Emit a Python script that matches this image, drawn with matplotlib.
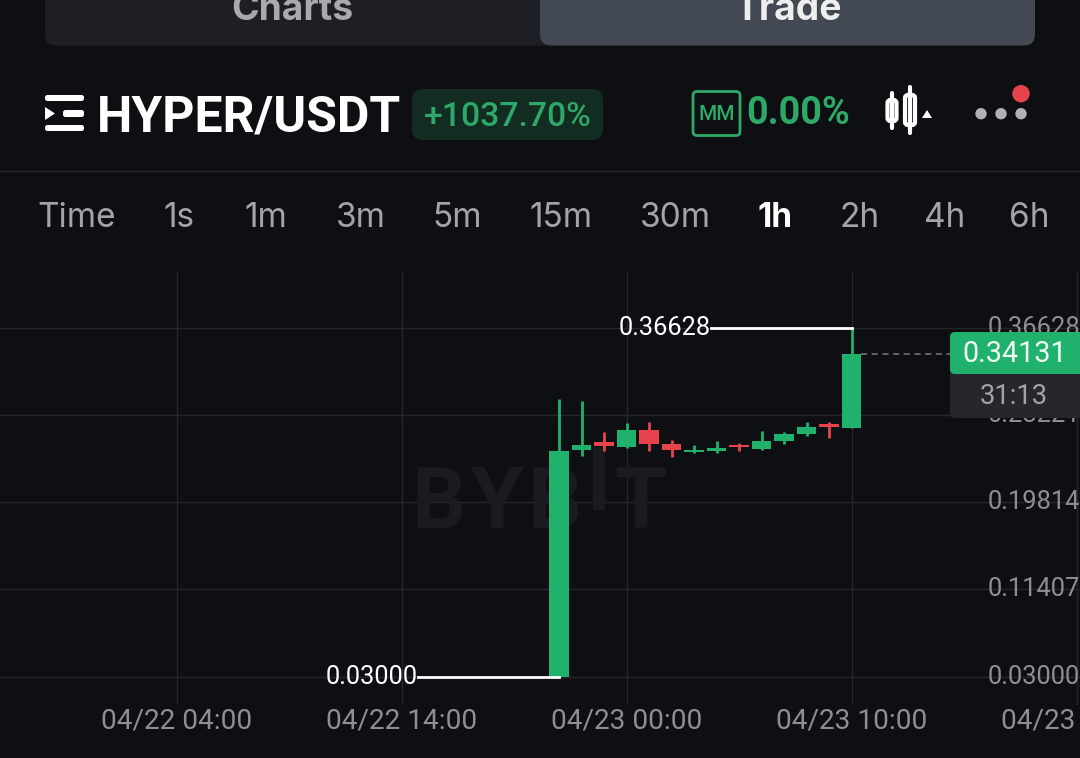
import matplotlib
matplotlib.use('Agg')
import matplotlib.pyplot as plt
from matplotlib.patches import FancyBboxPatch, Rectangle, Circle, Polygon

# Candles, hours relative to 04/23 00:00
hours = [-3, -2, -1, 0, 1, 2, 3, 4, 5, 6, 7, 8, 9, 10]
opens = [0.0300, 0.2481, 0.2558, 0.2516, 0.2680, 0.2545, 0.2461, 0.2478, 0.2535, 0.2494, 0.2571, 0.2641, 0.2738, 0.2699]
highs = [0.2979, 0.2959, 0.2658, 0.2745, 0.2757, 0.2577, 0.2535, 0.2574, 0.2552, 0.2667, 0.2658, 0.2754, 0.2754, 0.36628]
lows = [0.0300, 0.2430, 0.2471, 0.2507, 0.2471, 0.2417, 0.2456, 0.2458, 0.2471, 0.2484, 0.2545, 0.2615, 0.2596, 0.2699]
closes = [0.2478, 0.2529, 0.2519, 0.2673, 0.2545, 0.2487, 0.2487, 0.2507, 0.2509, 0.2571, 0.2641, 0.2702, 0.2706, 0.34131]

price_ticks = [0.03000, 0.11407, 0.19814, 0.28221, 0.36628]
price_labels = ['0.03000', '0.11407', '0.19814', '0.28221', '0.36628']
time_ticks = [-20, -10, 0, 10, 20]
time_labels = ['04/22 04:00', '04/22 14:00', '04/23 00:00', '04/23 10:00', '04/23 20:00']
intervals = ['Time', '1s', '1m', '3m', '5m', '15m', '30m', '1h', '2h', '4h', '6h']
interval_x = [77, 179, 266, 361, 457, 560.5, 675, 775.5, 860, 945, 1029]

BG = '#0e0f13'
GREEN = '#20b26c'
RED = '#e8434d'
GRID = '#24262b'
GREY = '#a3a4a9'
MARK = '#1a1b1f'
FONT = 'Inter'
W, H = 1080, 758
X0, Y0 = 626.7, 676.7   # pixel of 04/23 00:00 and of price 0.03
PX_HOUR, PX_PRICE = 22.5, 1037.8


def hx(px):
    return (px - X0) / PX_HOUR


def py(px):
    return 0.03 + (Y0 - px) / PX_PRICE


fig = plt.figure(figsize=(W / 100, H / 100), dpi=100, facecolor=BG)

# pixel overlay for the app chrome
ui = fig.add_axes([0, 0, 1, 1], zorder=3)
ui.set_xlim(0, W)
ui.set_ylim(H, 0)
ui.axis('off')

# chart axes
top_px, bottom_px = 272, 705
ax = fig.add_axes([0, 1 - bottom_px / H, 1, (bottom_px - top_px) / H], zorder=1, facecolor=BG)
ax.set_xlim(hx(0), hx(W))
ax.set_ylim(py(bottom_px), py(top_px))
for s in ax.spines.values():
    s.set_visible(False)
ax.set_xticks(time_ticks)
ax.set_yticks(price_ticks)
ax.set_xticklabels([])
ax.set_yticklabels([])
ax.tick_params(length=0)
ax.grid(True, color=GRID, lw=1)
ax.set_axisbelow(True)

# watermark, the I is a raised bar
for letter, cx in [('B', 439), ('Y', 497), ('B', 555), ('T', 641)]:
    ax.text(hx(cx), py(528), letter, color=MARK, fontsize=61, fontweight='bold', family='Roboto',
            ha='center', va='baseline', zorder=1)
ax.add_patch(Rectangle((hx(593), py(510)), hx(605) - hx(593), py(447) - py(510), fc=MARK, ec='none', zorder=1))

for h, o, hi, lo, c in zip(hours, opens, highs, lows, closes):
    col = GREEN if c >= o else RED
    ax.vlines(h, lo, hi, color=col, lw=2, zorder=3)
    ax.bar(h, abs(c - o), bottom=min(o, c), width=0.87, color=col, zorder=4)

# high / low markers
ax.plot([hours[13] - 6.27, hours[13]], [highs[13], highs[13]], color='white', lw=2, zorder=5)
ax.plot([hours[0] - 6.27, hours[0]], [lows[0], lows[0]], color='white', lw=2, zorder=5)
ax.text(hours[13] - 6.27, highs[13], '0.36628', color='white', fontsize=18.3, family='Roboto',
        ha='right', va='center', zorder=5)
ax.text(hours[0] - 6.27, lows[0], '0.03000', color='white', fontsize=18.3, family='Roboto',
        ha='right', va='center', zorder=5)

# last price line
ax.plot([10.4, 14.5], [closes[13], closes[13]], color='#77797e', lw=1.1, ls=(0, (4, 3)), zorder=2)

# axis labels
for y, lab in zip(price_ticks, price_labels):
    ui.text(988, Y0 - (y - 0.03) * PX_PRICE, lab, color='#8e8f94', fontsize=18.4, family='Roboto',
            ha='left', va='center', zorder=1)
for t, lab in zip(time_ticks, time_labels):
    ui.text(X0 + PX_HOUR * t, 720.5, lab, color='#8e8f94', fontsize=20.2, family='Roboto', ha='center', va='center')

# price tag
ui.add_patch(FancyBboxPatch((950, 355), 160, 63, boxstyle='round,pad=0,rounding_size=5', fc='#25272c', ec='none', zorder=4))
ui.add_patch(FancyBboxPatch((950, 332), 160, 42, boxstyle='round,pad=0,rounding_size=5', fc=GREEN, ec='none', zorder=4))
ui.text(1014.5, 362, '0.34131', color='#f2fbf6', fontsize=20.7, family='Roboto', ha='center', va='baseline', zorder=5)
ui.text(1014, 404, '31:13', color=GREY, fontsize=19.7, family='Roboto', ha='center', va='baseline', zorder=5)

# tabs
ui.add_patch(FancyBboxPatch((45, -20), 530, 65.5, boxstyle='round,pad=0,rounding_size=11', fc='#1e1f24', ec='none'))
ui.add_patch(FancyBboxPatch((540, -20), 495, 65.5, boxstyle='round,pad=0,rounding_size=11', fc='#424953', ec='none'))
ui.text(292.5, 20, 'Charts', color='#a8a9ae', fontsize=26.8, fontweight='bold', family=FONT, ha='center', va='baseline')
ui.text(788, 20, 'Trade', color='#eeeeee', fontsize=26.8, fontweight='bold', family=FONT, ha='center', va='baseline')

# symbol row
for yb in [95, 125]:
    ui.add_patch(FancyBboxPatch((45, yb), 39, 6, boxstyle='round,pad=0,rounding_size=2.5', fc='white', ec='none'))
ui.add_patch(FancyBboxPatch((63, 110), 21, 7, boxstyle='round,pad=0,rounding_size=2.5', fc='white', ec='none'))
ui.add_patch(Polygon([(45, 107), (45, 120), (55, 113.5)], fc='white', ec='none'))
ui.text(97, 132, 'HYPER/USDT', color='white', fontsize=36, fontweight='semibold', family='Roboto', ha='left', va='baseline')
ui.add_patch(FancyBboxPatch((412, 89), 191, 51, boxstyle='round,pad=0,rounding_size=11', fc='#122c22', ec='none'))
ui.text(507.5, 125.5, '+1037.70%', color='#2ea869', fontsize=24.3, family='Roboto', fontweight='medium', ha='center', va='baseline')

ui.add_patch(FancyBboxPatch((693, 91.5), 47, 44, boxstyle='round,pad=0,rounding_size=4', fc='none', ec='#2ea869', lw=2))
ui.text(716.5, 114, 'MM', color='#2ea869', fontsize=15, fontweight='medium', family='Roboto', ha='center', va='center')
ui.text(746, 124, '0.00%', color='#2ea869', fontsize=27.2, fontweight='bold', family='Roboto', ha='left', va='baseline')

# candle icon
for cx, y0, y1, b0, b1, bw in [(892, 93, 128, 100, 121, 9), (910, 87, 133, 95, 125, 10)]:
    ui.plot([cx, cx], [y0, y1], color='white', lw=3, solid_capstyle='round')
    ui.add_patch(FancyBboxPatch((cx - bw / 2, b0), bw, b1 - b0, boxstyle='round,pad=0,rounding_size=3', fc=BG, ec='white', lw=3))
ui.add_patch(Polygon([(922, 118), (932, 118), (927, 110)], fc='white', ec='none'))

# more menu
for cx in [981, 1001, 1021]:
    ui.add_patch(Circle((cx, 113.7), 5.7, fc='#b0b1b5', ec='none'))
ui.add_patch(Circle((1021, 93.7), 8.7, fc=RED, ec='none'))

ui.plot([0, W], [170.5, 170.5], color='#25262b', lw=1)

# interval row
for x, lab in zip(interval_x, intervals):
    sel = lab == '1h'
    ui.text(x, 227, lab, color='white' if sel else GREY, fontsize=24, family=FONT,
            fontweight='bold' if sel else 'normal', ha='center', va='baseline')

fig.savefig('out.png', dpi=100, facecolor=BG)
